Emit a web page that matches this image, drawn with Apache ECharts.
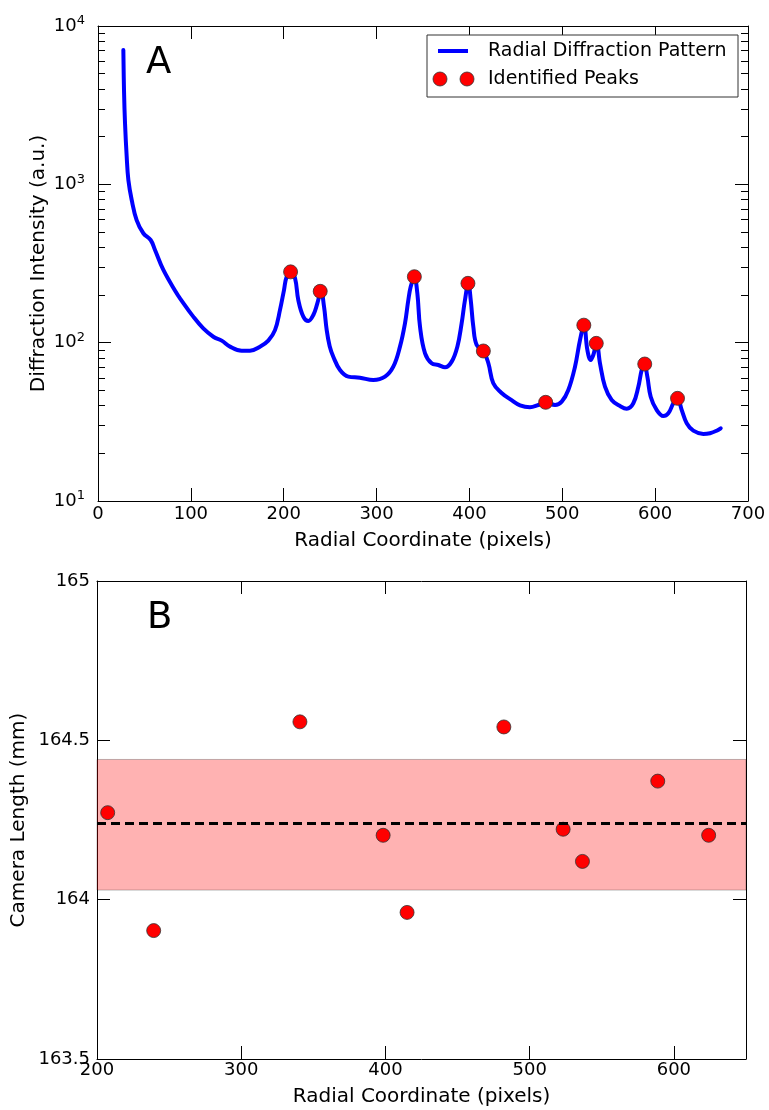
<!DOCTYPE html>
<html><head><meta charset="utf-8">
<script src="https://cdn.jsdelivr.net/npm/echarts@6/dist/echarts.min.js"></script>
<style>html,body{margin:0;padding:0;background:#fff}#c{width:769px;height:1110px}</style>
</head><body><div id="c"></div>
<script>
// ---- data ----
const profileX = [27.3,28,29.1,30.9,32.7,36.3,41.6,48.8,56.7,61.4,70.4,84.7,88.3,102.6,113.4,124.2,133.2,142.2,154.7,163.7,174.5,183.4,190.6,196,200.3,203.2,207.8,212.2,215.7,221.1,226.5,231.9,236.2,240.2,243.4,246.3,249.5,253.4,260.6,269.6,282.1,296.5,309.1,318,325.2,330.6,334.2,336.8,340.6,343.9,346.8,352.2,359.3,366.5,373.7,380.9,387,391.6,395.2,398.8,401.4,404.2,407.8,415,420.4,425.7,434,445,454.5,465.2,474.2,482.1,492.2,499.4,506.5,513.7,519.1,523.4,527,530.6,533.4,537,540.6,546,553.2,562.2,569.4,576.5,581.9,585.5,588.3,591.6,595.2,601.6,608.8,614.2,619.6,623.9,628.6,634,641.1,651.9,659.1,666.3,670.6];
const profileY = [7050,3945,2430,1495,1065,796,595,491,445,385,288,205,190.6,146,123,109,103,94.4,89,89,94.4,103,120,161,215,261,280,255,186,146,137,149.5,177,212,169,120,95,81.5,67.2,61,60.1,58.1,61,70.5,94.4,132.5,186,226,261,205,126,85.7,74.1,72.3,69.9,75.9,94.4,132.5,186,237,186,126,96.7,89,74.1,55.4,48.5,43.5,40.2,39.1,40.4,42,40.4,42.4,50.2,70.5,104,129,89.9,77.8,83.6,99,74.1,52.7,43.5,39.8,38.3,41.4,52.7,67.2,73.3,61,45.6,37.6,34.4,35.8,41.4,44.5,37.6,31,27.8,26.5,26.8,27.8,28.8];
const peakX = [207.4,239.3,340.7,398.4,415,482.1,523.2,536.6,588.8,624.1];
const peakIntensity = [280,211,261,237,88.6,42,129,99,73.3,44.5];
const cameraLength = [164.273,163.903,164.558,164.202,163.960,164.542,164.221,164.120,164.372,164.202];
const meanLength = 164.235;
const bandLow = 164.03;
const bandHigh = 164.44;
const logMinorTicks = [20,30,40,50,60,70,80,90,200,300,400,500,600,700,800,900,2000,3000,4000,5000,6000,7000,8000,9000];
const bottomXTicks = [200,300,400,500,600];

// ---- chart ----
const FONT = 'DejaVu Sans';
const chart = echarts.init(document.getElementById('c'), null, {renderer: 'canvas'});
const lineC = {show: true, lineStyle: {color: '#000', width: 1}};
const majTick = {show: true, inside: true, length: 13, lineStyle: {color: '#000', width: 1}};
const minTick = {show: true, inside: true, length: 7, lineStyle: {color: '#000', width: 1}, customValues: logMinorTicks};
const lbl = {color: '#000', fontFamily: FONT, fontSize: 18};
const nameStyle = {color: '#000', fontFamily: FONT, fontSize: 20};

const option = {
  animation: false,
  backgroundColor: '#fff',
  grid: [
    {left: 98, top: 26, width: 650, height: 475},
    {left: 97, top: 581, width: 649, height: 478}
  ],
  xAxis: [
    {gridIndex: 0, type: 'value', min: 0, max: 700, interval: 100, position: 'bottom',
     axisLine: lineC, axisTick: majTick, splitLine: {show: false},
     axisLabel: Object.assign({margin: 4}, lbl),
     name: 'Radial Coordinate (pixels)', nameLocation: 'middle', nameGap: 30, nameMoveOverlap: false, nameTextStyle: nameStyle},
    {gridIndex: 0, type: 'value', min: 0, max: 700, interval: 100, position: 'top',
     axisLine: lineC, axisTick: majTick, splitLine: {show: false}, axisLabel: {show: false}},
    {gridIndex: 1, type: 'value', min: 200, max: 650, interval: 100, position: 'bottom',
     axisLine: lineC, axisTick: Object.assign({customValues: bottomXTicks}, majTick), splitLine: {show: false},
     axisLabel: Object.assign({margin: 2, customValues: bottomXTicks}, lbl),
     name: 'Radial Coordinate (pixels)', nameLocation: 'middle', nameGap: 28, nameMoveOverlap: false, nameTextStyle: nameStyle},
    {gridIndex: 1, type: 'value', min: 200, max: 650, interval: 100, position: 'top',
     axisLine: lineC, axisTick: Object.assign({customValues: bottomXTicks}, majTick), splitLine: {show: false}, axisLabel: {show: false}}
  ],
  yAxis: [
    {gridIndex: 0, type: 'log', logBase: 10, min: 10, max: 10000, position: 'left',
     axisLine: lineC, axisTick: majTick, splitLine: {show: false},
     axisLabel: Object.assign({margin: 13,
       formatter: v => '{base|10}{sup|' + Math.round(Math.log10(v)) + '}',
       rich: {base: {fontSize: 18, fontFamily: FONT, color: '#000'},
              sup: {fontSize: 13, fontFamily: FONT, color: '#000', padding: [0, 0, 10, 0]}}}, lbl),
     name: 'Diffraction Intensity (a.u.)', nameLocation: 'middle', nameGap: 49, nameMoveOverlap: false, nameRotate: 90, nameTextStyle: nameStyle},
    {gridIndex: 0, type: 'log', logBase: 10, min: 10, max: 10000, position: 'left',
     axisLine: {show: false}, axisTick: minTick, splitLine: {show: false}, axisLabel: {show: false}},
    {gridIndex: 0, type: 'log', logBase: 10, min: 10, max: 10000, position: 'right',
     axisLine: lineC, axisTick: majTick, splitLine: {show: false}, axisLabel: {show: false}},
    {gridIndex: 0, type: 'log', logBase: 10, min: 10, max: 10000, position: 'right',
     axisLine: {show: false}, axisTick: minTick, splitLine: {show: false}, axisLabel: {show: false}},
    {gridIndex: 1, type: 'value', min: 163.5, max: 165, interval: 0.5, position: 'left',
     axisLine: lineC, axisTick: majTick, splitLine: {show: false},
     axisLabel: Object.assign({margin: 7}, lbl),
     name: 'Camera Length (mm)', nameLocation: 'middle', nameGap: 68, nameMoveOverlap: false, nameRotate: 90, nameTextStyle: nameStyle},
    {gridIndex: 1, type: 'value', min: 163.5, max: 165, interval: 0.5, position: 'right',
     axisLine: lineC, axisTick: majTick, splitLine: {show: false}, axisLabel: {show: false}}
  ],
  series: [
    {name: 'Radial Diffraction Pattern', type: 'line', xAxisIndex: 0, yAxisIndex: 0,
     data: profileX.map((x, i) => [x, profileY[i]]),
     symbol: 'none', smooth: 0.4,
     lineStyle: {color: '#0000ff', width: 4, join: 'round', cap: 'round'}, z: 2},
    {name: 'Identified Peaks', type: 'scatter', xAxisIndex: 0, yAxisIndex: 0,
     data: peakX.map((x, i) => [x, peakIntensity[i]]),
     symbolSize: 14, itemStyle: {color: '#ff0000', borderColor: '#333', borderWidth: 0.8, opacity: 1}, z: 3},
    {name: 'Camera Length', type: 'scatter', xAxisIndex: 2, yAxisIndex: 4,
     data: peakX.map((x, i) => [x, cameraLength[i]]),
     symbolSize: 14, itemStyle: {color: '#ff0000', borderColor: '#333', borderWidth: 0.8, opacity: 1}, z: 3,
     markArea: {silent: true,
       itemStyle: {color: 'rgba(255,0,0,0.3)', borderColor: 'rgba(0,0,0,0.25)', borderWidth: 1},
       data: [[{yAxis: bandLow}, {yAxis: bandHigh}]]},
     markLine: {silent: true, symbol: ['none', 'none'], label: {show: false},
       lineStyle: {color: '#000', type: [9, 5], width: 3},
       data: [{yAxis: meanLength}]}}
  ],
  graphic: [
    {type: 'text', left: 146, top: 45, style: {text: 'A', font: '37px "DejaVu Sans"', fill: '#000'}},
    {type: 'text', left: 147, top: 600, style: {text: 'B', font: '37px "DejaVu Sans"', fill: '#000'}},
    {type: 'rect', shape: {x: 427, y: 35, width: 311, height: 62}, style: {fill: '#fff', stroke: '#333', lineWidth: 1}, z: 10},
    {type: 'line', shape: {x1: 438, y1: 51, x2: 468, y2: 51}, style: {stroke: '#0000ff', lineWidth: 4}, z: 11},
    {type: 'circle', shape: {cx: 440, cy: 79, r: 7}, style: {fill: '#ff0000', stroke: '#333', lineWidth: 0.8}, z: 11},
    {type: 'circle', shape: {cx: 467, cy: 79, r: 7}, style: {fill: '#ff0000', stroke: '#333', lineWidth: 0.8}, z: 11},
    {type: 'text', x: 488, y: 51, style: {text: 'Radial Diffraction Pattern', font: '19px "DejaVu Sans"', fill: '#000', verticalAlign: 'middle'}, z: 11},
    {type: 'text', x: 488, y: 79, style: {text: 'Identified Peaks', font: '19px "DejaVu Sans"', fill: '#000', verticalAlign: 'middle'}, z: 11}
  ]
};
chart.setOption(option);
</script>
</body></html>
